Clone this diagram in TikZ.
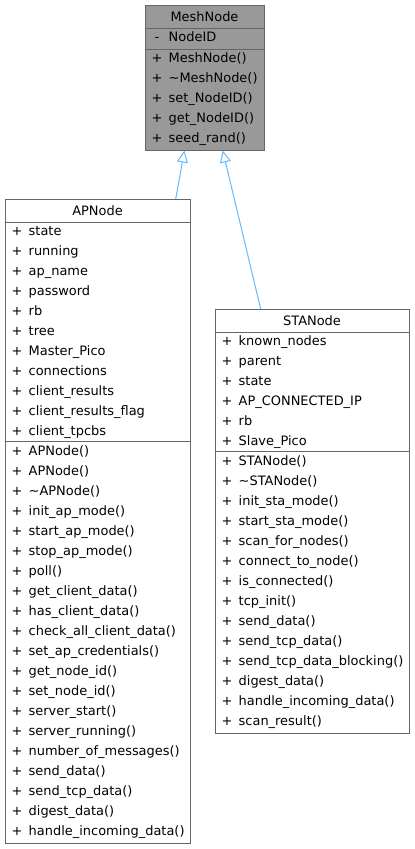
\documentclass[tikz,border=0pt]{standalone}
\usepackage{fontspec}
\setmainfont{DejaVu Sans}
\usetikzlibrary{arrows.meta}
\definecolor{boxgray}{HTML}{666666}
\definecolor{hlfill}{HTML}{999999}
\definecolor{edgeblue}{HTML}{63B8FF}
\newcommand\dxfont{\fontsize{12.95}{15}\selectfont}
\tikzset{
  cls/.style={draw=boxgray, line width=1pt, inner sep=0pt, outer sep=0pt, anchor=north west},
  mem/.style={anchor=base west, inner sep=0pt, font=\dxfont},
  ttl/.style={anchor=base, inner sep=0pt, font=\dxfont},
  divline/.style={draw=boxgray, line width=1pt},
  inh/.style={draw=edgeblue, line width=1pt, -{Triangle[open, length=12pt, width=11pt]}}
}
\begin{document}
\begin{tikzpicture}[x=1pt, y=-1pt]
\useasboundingbox (0,0) rectangle (415,849);
% ---------------- MeshNode ----------------
\node[cls, fill=hlfill, minimum width=119pt, minimum height=145.5pt] (mesh) at (145,5) {};
\draw[divline] (145,28) -- (264,28);
\draw[divline] (145,49) -- (264,49);
\node[ttl] (meshtitle) at (204.5,21) {MeshNode};
\node[mem] (meshas1) at (154.5,41.5) {-};
\node[mem] (mesha1) at (168.5,41.5) {NodeID};
\foreach \t [count=\i] in {MeshNode(), \textasciitilde MeshNode(), set\_NodeID(), get\_NodeID(), seed\_rand()}{
  \node[mem] (meshms\i) at (151.5, 42.5+20*\i) {+};
  \node[mem] (meshm\i) at (168.5, 42.5+20*\i) {\t};
}
% ---------------- APNode ----------------
\node[cls, fill=white, minimum width=185pt, minimum height=644.5pt] (ap) at (5,199) {};
\draw[divline] (5,222) -- (190,222);
\draw[divline] (5,441.5) -- (190,441.5);
\node[ttl] (aptitle) at (97.5,215) {APNode};
\foreach \t [count=\i] in {state, running, ap\_name, password, rb, tree, Master\_Pico, connections, client\_results, client\_results\_flag, client\_tpcbs}{
  \node[mem] (apas\i) at (11.5, 215+20*\i) {+};
  \node[mem] (apa\i) at (28.5, 215+20*\i) {\t};
}
\foreach \t [count=\i] in {APNode(), APNode(), \textasciitilde APNode(), init\_ap\_mode(), start\_ap\_mode(), stop\_ap\_mode(), poll(), get\_client\_data(), has\_client\_data(), check\_all\_client\_data(), set\_ap\_credentials(), get\_node\_id(), set\_node\_id(), server\_start(), server\_running(), number\_of\_messages(), send\_data(), send\_tcp\_data(), digest\_data(), handle\_incoming\_data()}{
  \node[mem] (apms\i) at (11.5, 435+20*\i) {+};
  \node[mem] (apm\i) at (28.5, 435+20*\i) {\t};
}
% ---------------- STANode ----------------
\node[cls, fill=white, minimum width=194pt, minimum height=424.5pt] (sta) at (215,309) {};
\draw[divline] (215,332) -- (409,332);
\draw[divline] (215,451.5) -- (409,451.5);
\node[ttl] (statitle) at (312,325) {STANode};
\foreach \t [count=\i] in {known\_nodes, parent, state, AP\_CONNECTED\_IP, rb, Slave\_Pico}{
  \node[mem] (stas\i) at (221.5, 325+20*\i) {+};
  \node[mem] (staa\i) at (238.5, 325+20*\i) {\t};
}
\foreach \t [count=\i] in {STANode(), \textasciitilde STANode(), init\_sta\_mode(), start\_sta\_mode(), scan\_for\_nodes(), connect\_to\_node(), is\_connected(), tcp\_init(), send\_data(), send\_tcp\_data(), send\_tcp\_data\_blocking(), digest\_data(), handle\_incoming\_data(), scan\_result()}{
  \node[mem] (stams\i) at (221.5, 445+20*\i) {+};
  \node[mem] (stam\i) at (238.5, 445+20*\i) {\t};
}
% ---------------- inheritance ----------------
\draw[inh] ([xshift=170.7pt]ap.north west) -- ([xshift=39.5pt]mesh.south west);
\draw[inh] ([xshift=45.7pt]sta.north west) -- ([xshift=77.7pt]mesh.south west);
\end{tikzpicture}
\end{document}
